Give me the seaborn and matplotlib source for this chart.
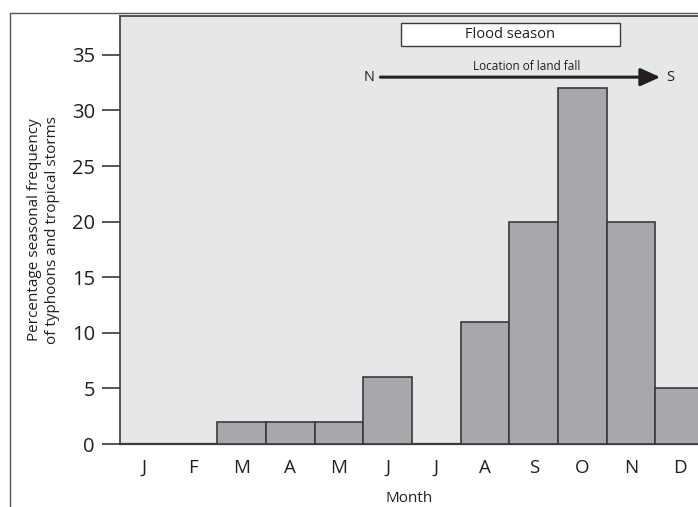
import matplotlib
matplotlib.use("Agg")
import matplotlib.pyplot as plt
import seaborn as sns
import pandas as pd
from matplotlib.lines import Line2D
from matplotlib.patches import Rectangle

months = ["Jan", "Feb", "Mar", "Apr", "May", "Jun", "Jul", "Aug", "Sep", "Oct", "Nov", "Dec"]
tick_labels = ["J", "F", "M", "A", "M", "J", "J", "A", "S", "O", "N", "D"]
values = [0, 0, 2, 2, 2, 6, 0, 11, 20, 32, 20, 5]
y_ticks = [0, 5, 10, 15, 20, 25, 30, 35]

sns.set_theme(style="white")
plt.rcParams["font.family"] = ["Open Sans", "DejaVu Sans"]

df = pd.DataFrame({"month": months, "value": values})

W, H = 698, 507
fig = plt.figure(figsize=(W / 100, H / 100), dpi=100)
ax = fig.add_axes([120 / W, (H - 444) / H, 1 - 120 / W + 0.001, (444 - 16) / H])
ax.set_facecolor("#e6e7e8")

sns.barplot(data=df, x="month", y="value", order=months, color="#a7a8ab",
            edgecolor="#3a3a3a", linewidth=1.2, width=1.0, saturation=1,
            ax=ax, zorder=3)
for p in ax.patches:
    p.set_facecolor("#a7a8ab")

ax.set_xlim(-0.5, 11.39)
ax.set_ylim(0, 38.5)
ax.set_yticks(y_ticks)
ax.set_yticklabels([str(v) for v in y_ticks], fontsize=14.5, color="#231f20")
ax.set_xticks(range(len(months)))
ax.set_xticklabels(tick_labels, fontsize=13.5, color="#231f20")
ax.tick_params(axis="y", direction="out", length=13, width=1.2, color="#3a3a3a",
               left=True, pad=5)
ax.tick_params(axis="x", length=0, pad=11)

for s in ["left", "top", "bottom"]:
    ax.spines[s].set_visible(True)
    ax.spines[s].set_color("#3a3a3a")
    ax.spines[s].set_linewidth(1.2)
ax.spines["right"].set_visible(False)
ax.spines["bottom"].set_linewidth(1.6)

ax.set_xlabel("Month", fontsize=11, color="#231f20")
ax.xaxis.set_label_coords(0.5, -0.11)
ax.set_ylabel("Percentage seasonal frequency\nof typhoons and tropical storms",
              fontsize=11, color="#231f20", linespacing=1.25)
ax.yaxis.set_label_coords(-0.104, 0.5)

# Flood season box
ax.add_patch(Rectangle((5.27, 35.8), 4.5, 2.05, facecolor="white",
                       edgecolor="#3a3a3a", linewidth=1.0, zorder=4))
ax.text(7.52, 36.85, "Flood season", ha="center", va="center", fontsize=10.5,
        color="#231f20", zorder=5)

# Arrow
ax.annotate("", xy=(10.6, 33.0), xytext=(4.85, 33.0),
            arrowprops=dict(arrowstyle="-|>,head_length=1.0,head_width=0.45",
                            color="#231f20", linewidth=2.2, shrinkA=0, shrinkB=0),
            zorder=5)
ax.text(4.72, 33.0, "N", ha="right", va="center", fontsize=10.5, color="#231f20")
ax.text(10.72, 33.0, "S", ha="left", va="center", fontsize=10.5, color="#231f20")
ax.text(7.85, 33.4, "Location of land fall", ha="center", va="bottom",
        fontsize=8.5, color="#231f20")

# outer frame
fig.add_artist(Line2D([10 / W, 1], [(H - 13) / H, (H - 13) / H], transform=fig.transFigure,
                      color="#555555", linewidth=1.0))
fig.add_artist(Line2D([10 / W, 10 / W], [(H - 13) / H, 0], transform=fig.transFigure,
                      color="#555555", linewidth=1.0))

fig.savefig("out.png", dpi=100)
